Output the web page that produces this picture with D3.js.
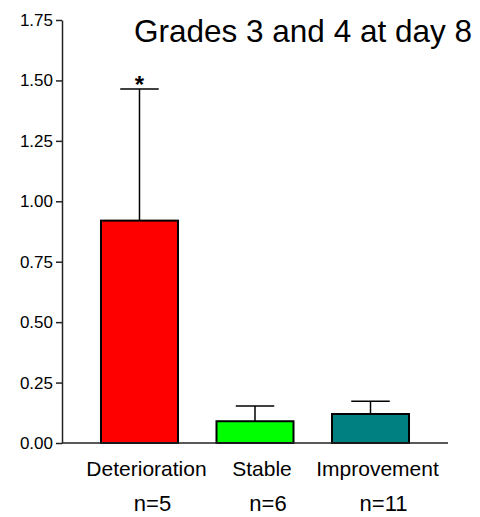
<!DOCTYPE html>
<html>
<head>
<meta charset="utf-8">
<script src="https://cdn.jsdelivr.net/npm/d3@7"></script>
<style>
  body { margin: 0; background: #fff; }
  svg text { font-family: "Liberation Sans", Arial, sans-serif; fill: #000; }
</style>
</head>
<body>
<div id="chart"></div>
<script>
const categories = ['Deterioration', 'Stable', 'Improvement'];
const counts = ['n=5', 'n=6', 'n=11'];
const means = [0.92, 0.09, 0.12];
const errUpper = [1.465, 0.153, 0.173];
const colors = ['#ff0000', '#00ff00', '#008080'];
const yTicks = [0, 0.25, 0.5, 0.75, 1.0, 1.25, 1.5, 1.75];
const sigMarks = ['*', '', ''];

const width = 480;
const height = 517;

const svg = d3.select('#chart')
  .append('svg')
  .attr('width', width)
  .attr('height', height);

const x = d3.scaleBand()
  .domain(categories)
  .range([62, 448])
  .paddingInner(1 / 3)
  .paddingOuter(0.3375);

const y = d3.scaleLinear()
  .domain([0, 1.75])
  .range([443, 20]);

// y axis
const yAxis = svg.append('g')
  .attr('transform', 'translate(62,0)')
  .call(d3.axisLeft(y).tickValues(yTicks).tickFormat(d3.format('.2f')).tickSize(6).tickPadding(3).tickSizeOuter(0));
yAxis.select('.domain').attr('stroke', '#222').attr('stroke-width', 1.5);
yAxis.selectAll('.tick line').attr('stroke', '#222').attr('stroke-width', 1.5);
yAxis.selectAll('.tick text')
  .style('font-size', '17px')
  .style('font-family', '"Liberation Sans", Arial, sans-serif')
  .attr('fill', '#000');

// error bars (upper only)
const err = svg.append('g');
categories.forEach((c, i) => {
  const cx = x(c) + x.bandwidth() / 2;
  const capW = x.bandwidth() / 2;
  err.append('line')
    .attr('x1', cx).attr('x2', cx)
    .attr('y1', y(means[i])).attr('y2', y(errUpper[i]))
    .attr('stroke', '#000').attr('stroke-width', 1.5);
  err.append('line')
    .attr('x1', cx - capW / 2).attr('x2', cx + capW / 2)
    .attr('y1', y(errUpper[i])).attr('y2', y(errUpper[i]))
    .attr('stroke', '#000').attr('stroke-width', 1.5);
  if (sigMarks[i]) {
    err.append('text')
      .attr('x', cx)
      .attr('y', y(errUpper[i]) + 4)
      .attr('text-anchor', 'middle')
      .style('font-size', '24px')
      .style('font-weight', 'bold')
      .text(sigMarks[i]);
  }
});

// bars
svg.append('g')
  .selectAll('rect')
  .data(categories)
  .join('rect')
  .attr('x', (d) => x(d))
  .attr('y', (d, i) => y(means[i]))
  .attr('width', x.bandwidth())
  .attr('height', (d, i) => y(0) - y(means[i]))
  .attr('fill', (d, i) => colors[i])
  .attr('stroke', '#000')
  .attr('stroke-width', 2);

// baseline
svg.append('line')
  .attr('x1', 62).attr('x2', 448)
  .attr('y1', y(0)).attr('y2', y(0))
  .attr('stroke', '#222').attr('stroke-width', 1.5);

// category labels
svg.append('g')
  .selectAll('text')
  .data(categories)
  .join('text')
  .attr('x', (d) => x(d) + x.bandwidth() / 2 + 7)
  .attr('y', 476)
  .attr('text-anchor', 'middle')
  .style('font-size', '21px')
  .text((d) => d);

svg.append('g')
  .selectAll('text')
  .data(categories)
  .join('text')
  .attr('x', (d) => x(d) + x.bandwidth() / 2 + 13)
  .attr('y', 511)
  .attr('text-anchor', 'middle')
  .style('font-size', '22px')
  .text((d, i) => counts[i]);

// title
svg.append('text')
  .attr('x', 472)
  .attr('y', 42)
  .attr('text-anchor', 'end')
  .style('font-size', '31.5px')
  .text('Grades 3 and 4 at day 8');
</script>
</body>
</html>
